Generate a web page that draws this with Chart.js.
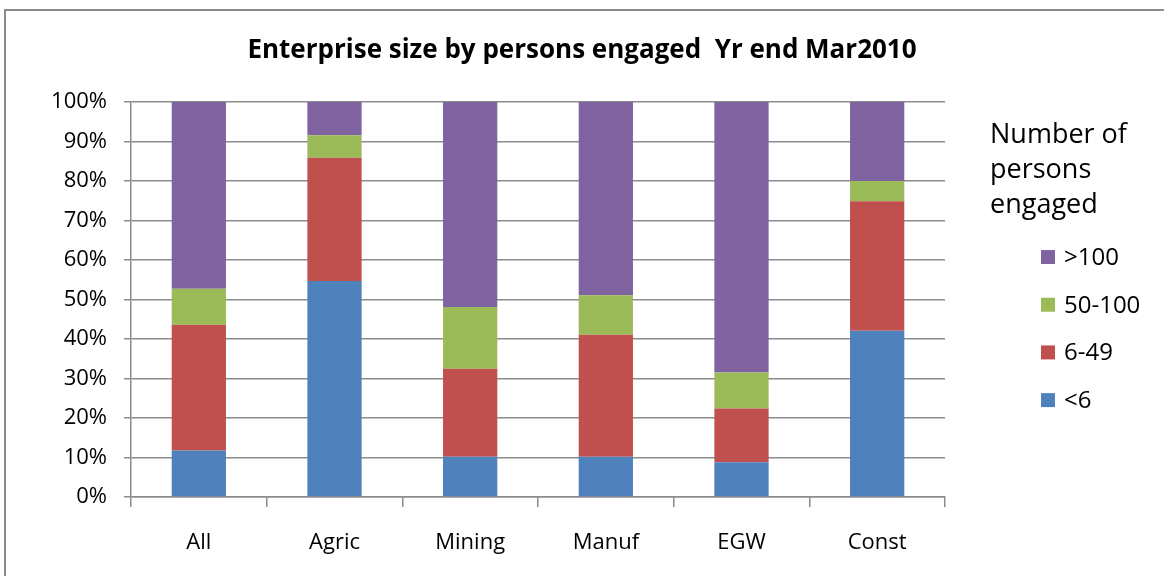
<!DOCTYPE html>
<html>
<head>
<meta charset="utf-8">
<script src="https://cdn.jsdelivr.net/npm/chart.js@4"></script>
<style>
  html, body { margin: 0; padding: 0; background: #fff; }
  #wrap { width: 1164px; height: 576px; position: relative; }
</style>
</head>
<body>
<div id="wrap"><canvas id="myChart" width="1164" height="576"></canvas></div>
<script>
"use strict";

const categories = ["All", "Agric", "Mining", "Manuf", "EGW", "Const"];
const under6 = [11.8, 54.7, 10.2, 10.2, 8.8, 42.1];
const from6to49 = [31.8, 31.2, 22.3, 30.9, 13.6, 32.8];
const from50to100 = [9.1, 5.7, 15.6, 10.0, 9.1, 5.1];
const over100 = [47.3, 8.4, 51.9, 48.9, 68.5, 20.0];
const seriesLabels = ["<6", "6-49", "50-100", ">100"];
const yTicks = [0, 10, 20, 30, 40, 50, 60, 70, 80, 90, 100];

const blue = "#4f81bd";
const red = "#c0504d";
const green = "#9bbb59";
const purple = "#8064a2";
const gridGrey = "#8c8c8c";

const titleText = "Enterprise size by persons engaged  Yr end Mar2010";
const legendTitle = ["Number of", "persons", "engaged"];

Chart.defaults.font.family = "'Open Sans', sans-serif";
Chart.defaults.color = "#000";

const ctx = document.getElementById("myChart");

// frame, title and legend drawn by hand so they sit where the original has them
const decorations = {
  id: "decorations",
  beforeDraw(chart) {
    const c = chart.ctx;
    c.save();
    c.strokeStyle = "#8c8c8c";
    c.lineWidth = 2;
    c.strokeRect(5, 10, 1300, 700);
    c.restore();
  },
  afterDraw(chart) {
    const c = chart.ctx;
    c.save();
    c.fillStyle = "#000";
    c.textAlign = "center";
    c.textBaseline = "alphabetic";
    c.font = "bold 26px 'Open Sans', sans-serif";
    c.fillText(titleText, 582, 58);

    c.textAlign = "left";
    c.font = "27px 'Open Sans', sans-serif";
    legendTitle.forEach((line, i) => {
      c.fillText(line, 990, 143 + i * 35);
    });

    c.font = "24px 'Open Sans', sans-serif";
    c.textBaseline = "middle";
    const sets = chart.data.datasets.slice().reverse();
    sets.forEach((ds, i) => {
      const y = 257 + i * 47.7;
      c.fillStyle = ds.backgroundColor;
      c.fillRect(1041, y - 7, 14, 14);
      c.fillStyle = "#000";
      c.fillText(ds.label, 1064, y + 1);
    });
    c.restore();
  },
};

const data = {
  labels: categories,
  datasets: [
    { label: seriesLabels[0], data: under6, backgroundColor: blue },
    { label: seriesLabels[1], data: from6to49, backgroundColor: red },
    { label: seriesLabels[2], data: from50to100, backgroundColor: green },
    { label: seriesLabels[3], data: over100, backgroundColor: purple },
  ].map((ds) => ({
    ...ds,
    stack: "s",
    borderWidth: 0,
    barPercentage: 0.4,
    categoryPercentage: 1,
  })),
};

const config = {
  type: "bar",
  data: data,
  plugins: [decorations],
  options: {
    responsive: false,
    animation: false,
    layout: {
      padding: { top: 102, right: 219, left: 0, bottom: 0 },
    },
    scales: {
      x: {
        stacked: true,
        grid: {
          offset: true,
          drawOnChartArea: false,
          drawTicks: true,
          tickLength: 10,
          color: gridGrey,
          lineWidth: 1.5,
        },
        border: { color: gridGrey, width: 1.5 },
        ticks: {
          padding: 23,
          font: { size: 22 },
        },
        afterFit: (scale) => {
          scale.height = 79;
        },
      },
      y: {
        stacked: true,
        min: 0,
        max: 100,
        afterBuildTicks: (scale) => {
          scale.ticks = yTicks.map((v) => ({ value: v }));
        },
        grid: {
          color: gridGrey,
          lineWidth: 1.5,
          tickLength: 7,
        },
        border: { color: gridGrey, width: 1.5 },
        ticks: {
          padding: 17,
          font: { size: 22 },
          callback: (v) => v + "%",
        },
        afterFit: (scale) => {
          scale.width = 131;
        },
      },
    },
    plugins: {
      legend: { display: false },
      title: { display: false },
      tooltip: { enabled: false },
    },
  },
};

new Chart(ctx, config);
</script>
</body>
</html>
